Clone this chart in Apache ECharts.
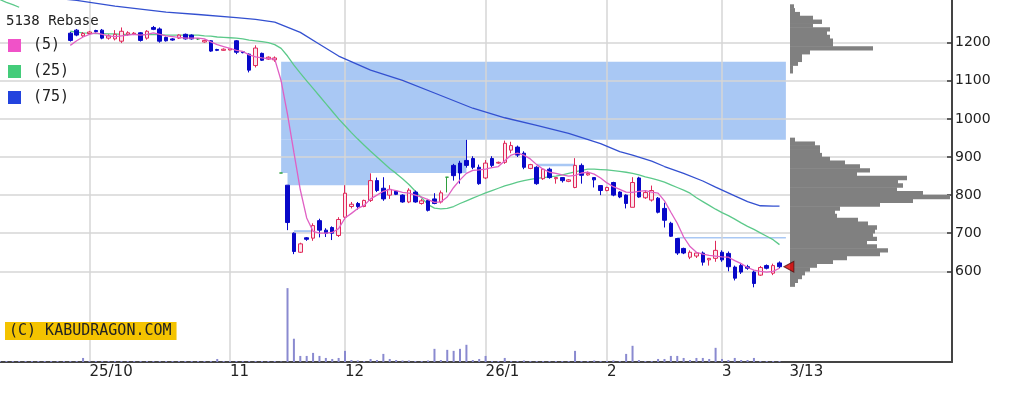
<!DOCTYPE html>
<html><head><meta charset="utf-8">
<script src="https://cdn.jsdelivr.net/npm/echarts@6/dist/echarts.min.js"></script>
<style>html,body{margin:0;padding:0;background:#fff}#c{width:1022px;height:395px}</style>
</head><body><div id="c"></div>
<script>
// ---- categories (trading days) ----
const dates = [
'2025-09-09','2025-09-10','2025-09-11','2025-09-12','2025-09-16','2025-09-17','2025-09-18','2025-09-19','2025-09-22','2025-09-24',
'2025-09-25','2025-09-26','2025-09-29','2025-09-30','2025-10-01','2025-10-02','2025-10-03','2025-10-06','2025-10-07','2025-10-08',
'2025-10-09','2025-10-10','2025-10-14','2025-10-15','2025-10-16','2025-10-17','2025-10-20','2025-10-21','2025-10-22','2025-10-23',
'2025-10-24','2025-10-27','2025-10-28','2025-10-29','2025-10-30','2025-10-31','2025-11-04','2025-11-05','2025-11-06','2025-11-07',
'2025-11-10','2025-11-11','2025-11-12','2025-11-13','2025-11-14','2025-11-17','2025-11-18','2025-11-19','2025-11-20','2025-11-21',
'2025-11-25','2025-11-26','2025-11-27','2025-11-28','2025-12-01','2025-12-02','2025-12-03','2025-12-04','2025-12-05','2025-12-08',
'2025-12-09','2025-12-10','2025-12-11','2025-12-12','2025-12-15','2025-12-16','2025-12-17','2025-12-18','2025-12-19','2025-12-22',
'2025-12-23','2025-12-24','2025-12-25','2025-12-26','2025-12-29','2025-12-30','2026-01-05','2026-01-06','2026-01-07','2026-01-08',
'2026-01-09','2026-01-13','2026-01-14','2026-01-15','2026-01-16','2026-01-19','2026-01-20','2026-01-21','2026-01-22','2026-01-23',
'2026-01-26','2026-01-27','2026-01-28','2026-01-29','2026-01-30','2026-02-02','2026-02-03','2026-02-04','2026-02-05','2026-02-06',
'2026-02-09','2026-02-10','2026-02-12','2026-02-13','2026-02-16','2026-02-17','2026-02-18','2026-02-19','2026-02-20','2026-02-24',
'2026-02-25','2026-02-26','2026-02-27','2026-03-02','2026-03-03','2026-03-04','2026-03-05','2026-03-06','2026-03-09','2026-03-10',
'2026-03-11','2026-03-12','2026-03-13'];
const padDays = 27; // empty slots to the right of the last day

// ---- x tick labels ----
const xTickDates  = ['2025-10-01','2025-11-04','2025-12-01','2026-01-05','2026-02-02','2026-03-02','2026-03-13'];
const xTickLabels = ['25/10','11','12','26/1','2','3','3/13'];

// ---- price: [open, close, low, high] ----
const ohlc = [
null,null,null,null,null,null,null,null,null,null,
null,[1225,1206,1203,1228],[1233,1220,1217,1236],[1218,1224,1215,1228],[1224,1228,1222,1231],[1232,1229,1226,1234],[1233,1212,1209,1236],[1212,1218,1208,1222],[1210,1222,1206,1233],[1204,1230,1199,1240],
[1222,1226,1218,1230],[1223,1225,1220,1228],[1226,1206,1203,1228],[1212,1230,1208,1233],[1240,1235,1233,1244],[1236,1204,1200,1240],[1214,1205,1203,1216],[1210,1207,1205,1212],[1212,1220,1210,1222],[1222,1210,1208,1224],
[1220,1210,1208,1222],[1210,1210,1207,1212],[1202,1206,1200,1208],[1205,1178,1176,1207],[1182,1180,1178,1184],[1180,1183,1179,1185],[1181,1184,1180,1186],[1205,1175,1170,1207],[1176,1174,1172,1178],[1170,1128,1122,1172],
[1140,1186,1135,1193],[1172,1154,1152,1174],[1157,1162,1155,1164],[1155,1160,1150,1164],[858,858,858,858],[826,728,708,826],[700,652,645,702],[650,672,648,675],[688,684,680,690],[687,720,680,726],
[733,708,689,738],[708,700,690,713],[715,700,682,718],[694,736,690,742],[742,805,735,826],[770,776,765,782],[778,770,762,782],[770,786,768,788],[786,838,782,857],[838,812,808,846],
[818,790,785,847],[800,815,790,826],[810,802,800,813],[800,782,780,802],[782,813,779,818],[808,782,780,812],[778,785,775,790],[786,760,757,790],[790,778,776,805],[782,806,778,812],
[847,847,807,847],[878,851,838,882],[884,858,830,890],[891,878,872,945],[896,873,868,902],[873,830,827,880],[845,884,842,892],[896,878,873,902],[884,886,882,888],[886,936,882,943],
[918,930,910,940],[926,905,900,930],[910,873,868,915],[870,880,868,882],[873,830,827,876],[843,868,840,870],[868,846,843,872],[843,846,830,846],[846,838,833,847],[836,840,834,842],
[820,878,818,897],[878,852,830,883],[853,857,851,862],[846,840,820,847],[825,812,800,826],[812,820,810,822],[833,800,797,835],[808,795,792,810],[800,778,765,802],[768,833,768,847],
[845,795,793,848],[793,807,790,812],[787,812,783,825],[792,755,752,795],[765,734,715,780],[726,692,690,730],[686,648,643,686],[660,648,645,662],[637,650,632,655],[640,648,635,650],
[648,624,615,652],[630,634,615,635],[634,655,625,680],[650,630,625,655],[647,612,600,652],[611,582,576,615],[615,598,593,622],[612,608,604,617],[598,568,558,602],[590,610,588,614],
[615,608,605,618],[595,615,590,620],[622,612,608,626]];

// ---- volume ----
const volumes = [
1,1,1,1,1,1,1,1,1,1, 1,1,1,4,1,1,1,1,1,1, 1,1,1,1,1,1,1,1,1,1, 1,1,1,1,3,1,1,1,1,1,
1,1,1,1,0.5,73,23,6,6,9, 6,4,3,4,11,2,1.5,1,3,2, 8,3,2,1.5,1.5,1,1,1.5,13,2, 12,11,13,17,2,3,6,1,1,4,
1,1,1.5,1,1,1,1,1,1,1, 11,1,1,1.5,1,1,1.5,1,8,16, 2,1,1,3,3,6,6,4,2,4, 4,3,14,3,2,4,2,2,4,1,
1,1,1];

// ---- moving averages ----
const ma5 = [
null,null,null,null,null,null,null,null,null,null,
null,1193,1205,1215,1222,1226,1222,1218,1216,1218,
1220,1222,1220,1222,1226,1222,1218,1216,1214,1212,
1212,1212,1210,1202,1195,1190,1185,1180,1177,1168,
1163,1160,1158,1157,1100,1012,912,814,740,705,
700,700,702,712,740,752,765,773,790,800,
810,815,812,807,805,800,795,788,781,782,
795,820,840,857,865,866,868,872,875,890,
905,910,905,895,880,868,860,857,853,850,
852,858,860,855,845,832,822,815,808,807,
810,812,808,805,785,755,726,690,665,650,
645,642,640,638,637,628,620,610,603,600,
598,600,608];
const ma25 = [
1313,1306,1300,1293,null,null,null,null,null,null,
null,1230,1228,1226,1225,1224,1224,1223,1223,1222,
1222,1222,1221,1221,1221,1221,1220,1220,1220,1220,
1220,1220,1218,1217,1215,1214,1213,1212,1210,1207,
1205,1203,1200,1195,1185,1165,1141,1120,1100,1080,
1060,1040,1020,1000,982,964,947,931,915,900,
885,870,857,843,828,810,793,775,766,764,
765,770,778,785,792,799,806,812,818,824,
829,834,838,841,844,846,848,850,853,857,
861,865,868,868,867,866,864,862,860,857,
853,848,844,839,834,827,820,813,805,793,
783,773,763,754,746,737,727,718,710,701,
692,683,670];
const ma75 = [
null,null,null,null,null,null,null,null,1318,null,
null,null,1311,null,null,null,null,null,1296,null,
null,null,null,null,null,null,1280,null,null,null,
null,1274,null,null,null,null,null,1266,null,null,
1261,null,null,1254,null,null,null,1227,null,null,
1196,null,null,1165,null,null,null,null,1128,null,
null,null,null,1101,null,null,null,null,1068,null,
null,null,null,null,1028,null,null,null,null,1003,
null,null,null,null,983,null,null,null,null,962,
null,null,null,null,935,null,null,914,null,905,
null,null,889,null,875,null,null,857,null,null,
837,null,821,null,null,798,null,783,null,772,
null,771,771];

// ---- price gaps (windows): from date, to date (null = latest), top, bottom ----
const gapFrom   = ['2025-11-14','2025-11-14','2025-11-17','2025-11-18','2026-01-16','2026-02-18'];
const gapTo     = [null,'2025-12-26','2025-12-05','2025-11-21','2026-01-26',null];
const gapTop    = [1150,945,858,708,882,690];
const gapBottom = [945,858,826,702,876,686];

// ---- volume-by-price profile (bin centre, volume) ----
const profilePrices = [1295,1285,1275,1265,1255,1245,1235,1225,1215,1205,1195,1185,1175,1165,1155,1145,1135,1125,
 945,935,925,915,905,895,885,875,865,855,845,835,825,815,805,795,785,775,765,755,745,735,725,715,705,695,685,675,665,655,645,635,625,615,605,595,585,575,565];
const profileVolumes = [4,5,10,23,32,23,40,37,40,43,43,83,20,12,12,8,3,3,
 5,25,30,30,32,40,55,70,80,67,117,108,113,107,133,160,123,90,50,45,47,68,78,87,85,83,87,77,87,98,90,57,43,27,20,15,12,8,5];
const profileBin = 10;

// ---------------- build ----------------
const cats = dates.concat(Array.from({length: padDays}, (_, i) => ' ' + i));
const lastDate = dates[dates.length - 1];
const lastClose = ohlc[ohlc.length - 1][1];
const RED = '#e0285a', BLUE = '#0808c8', GREEN = '#2e9e3e';

const candleData = ohlc.map(r => {
  if (!r) return '-';
  if (r[0] === r[1]) return {value: r, itemStyle: {color: GREEN, color0: GREEN, borderColor: GREEN, borderColor0: GREEN}};
  return r;
});
const endIdx = dates.length;
const gapAreas = gapFrom.map((f, k) => [
  {xAxis: dates.indexOf(f), yAxis: gapTop[k]},
  {xAxis: gapTo[k] ? dates.indexOf(gapTo[k]) : endIdx, yAxis: gapBottom[k]}
]);
const profileData = profilePrices.map((p, k) => [p - profileBin / 2, p + profileBin / 2, profileVolumes[k]]);

const gridLeft = -1, gridRight = 70;
const priceTop = 42.7, priceBottom = 123.7;
const chart = echarts.init(document.getElementById('c'), null, {renderer: 'canvas'});
chart.setOption({
  animation: false,
  backgroundColor: '#ffffff',
  title: [
    {text: '5138 Rebase', left: 6, top: 14, padding: 0,
     textStyle: {fontFamily: 'DejaVu Sans Mono', fontSize: 14, fontWeight: 'normal', color: '#222'}},
    {text: '(C) KABUDRAGON.COM', left: 5, top: 322, padding: [2, 5, 1, 4], backgroundColor: '#f4c300',
     textStyle: {fontFamily: 'DejaVu Sans Mono', fontSize: 15, fontWeight: 'normal', color: '#222'}}
  ],
  legend: {
    orient: 'vertical', left: 8, top: 38, padding: 0, itemWidth: 13, itemHeight: 13, itemGap: 11,
    icon: 'rect', data: ['(5)', '(25)', '(75)'],
    textStyle: {fontFamily: 'DejaVu Sans Mono', fontSize: 15, color: '#222', padding: [0, 0, 0, 7]}
  },
  grid: [
    {left: gridLeft, right: gridRight, top: priceTop, bottom: priceBottom},
    {left: 790, right: gridRight, top: priceTop, bottom: priceBottom},
    {left: gridLeft, right: gridRight, top: 0, bottom: 33}
  ],
  xAxis: [
    {type: 'category', gridIndex: 0, data: cats, boundaryGap: false, show: false},
    {type: 'value', gridIndex: 1, min: 0, max: 162, show: false},
    {type: 'category', gridIndex: 2, data: cats, boundaryGap: false,
     axisLine: {lineStyle: {color: '#444', width: 2}},
     axisTick: {show: false},
     axisLabel: {
       interval: (i, v) => xTickDates.indexOf(v) >= 0,
       formatter: v => {
         const k = xTickDates.indexOf(v);
         if (k < 0) return '';
         return v === lastDate ? '{last|' + xTickLabels[k] + '}' : xTickLabels[k];
       },
       align: 'left', margin: 3, fontFamily: 'DejaVu Sans', fontSize: 15, color: '#222',
       rich: {last: {fontFamily: 'DejaVu Sans', fontSize: 15, color: '#222', padding: [0, 0, 0, 10]}}
     },
     splitLine: {show: true, interval: (i, v) => xTickDates.indexOf(v) >= 0 && v !== lastDate,
       lineStyle: {color: '#d6d6d6', width: 1.5}}}
  ],
  yAxis: [
    {type: 'value', gridIndex: 0, position: 'right', min: 600, max: 1200, interval: 100,
     axisLine: {show: false},
     axisTick: {show: true, inside: true, length: 5, lineStyle: {color: '#333', width: 1.5}},
     axisLabel: {margin: 3, fontFamily: 'DejaVu Sans', fontSize: 14, color: '#222', formatter: v => String(v)},
     splitLine: {show: true, lineStyle: {color: '#d6d6d6', width: 1.5}}},
    {type: 'value', gridIndex: 1, min: 600, max: 1200, show: false},
    {type: 'value', gridIndex: 2, position: 'right', min: 0, max: v => v.max * 4.9,
     axisLine: {show: true, lineStyle: {color: '#444', width: 2}},
     axisTick: {show: false}, axisLabel: {show: false}, splitLine: {show: false}}
  ],
  series: [
    {type: 'candlestick', name: 'price', xAxisIndex: 0, yAxisIndex: 0, data: candleData,
     barWidth: 4, clip: false, z: 3,
     itemStyle: {color: '#fbe6ec', color0: BLUE, borderColor: RED, borderColor0: BLUE, borderWidth: 1},
     markArea: {silent: true, z: -1, itemStyle: {color: '#a9c8f4'}, data: gapAreas}},
    {type: 'line', name: '(5)', xAxisIndex: 0, yAxisIndex: 0, data: ma5, showSymbol: false, clip: false, z: 4,
     color: '#e452c2', itemStyle: {color: '#f052c8'}, lineStyle: {color: '#e060c4', width: 1.3}},
    {type: 'line', name: '(25)', xAxisIndex: 0, yAxisIndex: 0, data: ma25, showSymbol: false, clip: false, z: 2,
     color: '#44cc7a', itemStyle: {color: '#44cc7a'}, lineStyle: {color: '#5cc98a', width: 1.3}},
    {type: 'line', name: '(75)', xAxisIndex: 0, yAxisIndex: 0, data: ma75, showSymbol: false, clip: false, z: 2,
     connectNulls: true, color: '#2243de', itemStyle: {color: '#2243de'}, lineStyle: {color: '#3350d0', width: 1.3}},
    {type: 'bar', name: 'volume', xAxisIndex: 2, yAxisIndex: 2, data: volumes, barWidth: 2,
     itemStyle: {color: '#8a8ad0'}, z: 1},
    {type: 'custom', name: 'profile', xAxisIndex: 1, yAxisIndex: 1, data: profileData,
     encode: {x: 2, y: [0, 1]}, z: 2,
     renderItem: (params, api) => {
       const a = api.coord([0, api.value(1)]);
       const b = api.coord([api.value(2), api.value(0)]);
       return {type: 'rect', shape: {x: a[0], y: a[1] - 0.3, width: b[0] - a[0], height: b[1] - a[1] + 0.6},
               style: {fill: '#808080', stroke: null}};
     }},
    {type: 'scatter', name: 'last', xAxisIndex: 0, yAxisIndex: 0, data: [[dates.length, lastClose]],
     symbol: 'triangle', symbolRotate: 90, symbolSize: [11, 10], symbolOffset: [3, 0], z: 10,
     itemStyle: {color: '#e00000', borderColor: '#501010', borderWidth: 1}}
  ]
});
</script></body></html>
